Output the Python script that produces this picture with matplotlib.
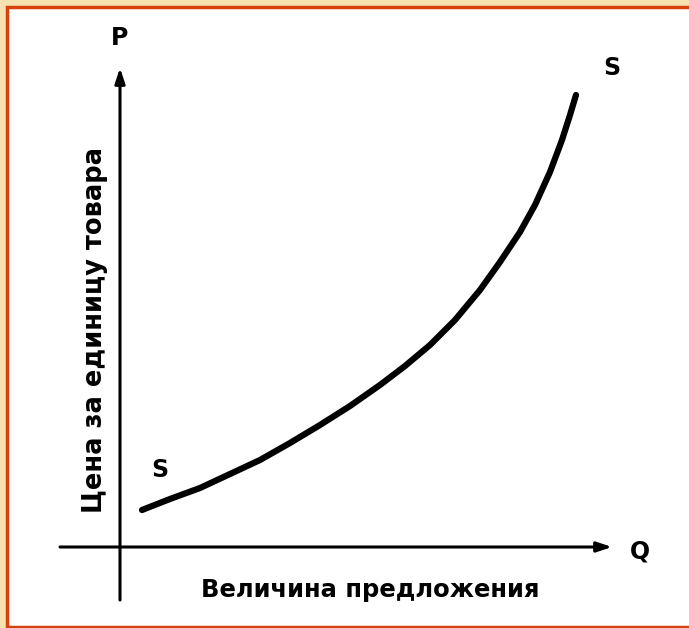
import matplotlib.pyplot as plt
from matplotlib.patches import Rectangle

# supply curve S-S (Q, P) in chart units
q_vals = [2.2, 5.0, 8.0, 11.0, 14.0, 17.0, 20.0, 23.0, 26.0, 28.5, 31.0,
          33.5, 36.0, 38.0, 40.0, 41.5, 43.0, 44.2, 45.0, 45.6]
p_vals = [3.7, 4.8, 5.9, 7.3, 8.7, 10.4, 12.2, 14.1, 16.2, 18.1, 20.2,
          22.7, 25.7, 28.5, 31.5, 34.2, 37.5, 40.7, 43.2, 45.2]

y_label = 'Цена за единицу товара'
x_label = 'Величина предложения'

fig = plt.figure(figsize=(6.89, 6.28), dpi=100)
fig.patch.set_facecolor('#f5e2b0')

# white panel with orange-red frame
frame = Rectangle((7 / 689, 1 - 627 / 628), 1.0, 620 / 628, transform=fig.transFigure,
                  facecolor='white', edgecolor='#d8400c', linewidth=2.5, zorder=-5)
fig.patches.append(frame)

ax = fig.add_axes([0, 0, 1, 1])
ax.set_zorder(1)
ax.set_xlim(-12.0, 56.9)
ax.set_ylim(-8.1, 54.7)
ax.axis('off')
ax.patch.set_alpha(0)

# axes arrows
arrow = dict(arrowstyle='-|>,head_length=0.9,head_width=0.3', color='black', lw=2.2,
             shrinkA=0, shrinkB=0)
ax.annotate('', xy=(0, 47.9), xytext=(0, -5.3), arrowprops=arrow)
ax.annotate('', xy=(49.2, 0), xytext=(-6.0, 0), arrowprops=arrow)

# curve
ax.plot(q_vals, p_vals, color='black', lw=4.5, solid_capstyle='round',
        solid_joinstyle='round')

bold = dict(fontweight='bold', color='black', family='DejaVu Sans')
ax.text(0, 50.9, 'P', fontsize=17, ha='center', va='center', **bold)
ax.text(52.0, -0.4, 'Q', fontsize=17, ha='center', va='center', **bold)
ax.text(4.0, 7.7, 'S', fontsize=17, ha='center', va='center', **bold)
ax.text(49.2, 47.9, 'S', fontsize=17, ha='center', va='center', **bold)

ax.text(-2.5, 21.7, y_label, fontsize=18.5, rotation=90, ha='center', va='center', **bold)
ax.text(25.0, -4.3, x_label, fontsize=17.5, ha='center', va='center', **bold)

fig.savefig('out.png', dpi=100, facecolor=fig.get_facecolor())
